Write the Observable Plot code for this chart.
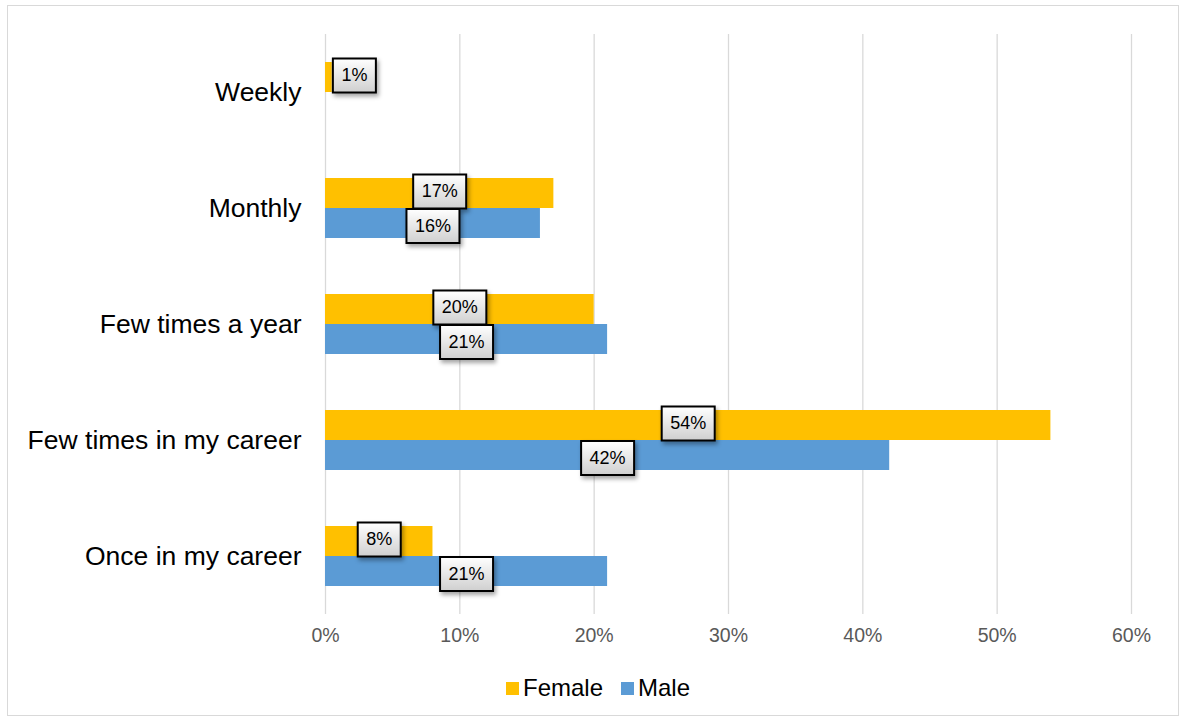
<!DOCTYPE html>
<html>
<head>
<meta charset="utf-8">
<script src="https://cdn.jsdelivr.net/npm/d3@7"></script>
<script src="https://cdn.jsdelivr.net/npm/@observablehq/plot@0.6"></script>
<style>
  html, body { margin: 0; padding: 0; background: #fff; }
  body { width: 1188px; height: 722px; position: relative; overflow: hidden; font-family: "Liberation Sans", Arial, sans-serif; }
  #frame { position: absolute; left: 7px; top: 5px; width: 1172px; height: 711px; border: 1px solid #d9d9d9; box-sizing: border-box; }
  #chart { position: absolute; left: 0; top: 0; }
  #legend { position: absolute; left: 0; top: 674px; width: 1188px; display: flex; justify-content: center; align-items: center; font-size: 24px; color: #000; padding-left: 8px; box-sizing: border-box; }
  .item { display: flex; align-items: center; margin: 0 9px; }
  .sw { width: 13px; height: 13px; margin-right: 4px; }
</style>
</head>
<body>
<div id="frame"></div>
<div id="chart"></div>
<div id="legend"></div>
<script>
const categories = ["Weekly", "Monthly", "Few times a year", "Few times in my career", "Once in my career"];
const series = ["Female", "Male"];
const colors = ["#FFC000", "#5B9BD5"];
const femaleValues = [0.5, 17, 20, 54, 8];
const maleValues = [0, 16, 21, 42, 21];
const xTicks = [0, 10, 20, 30, 40, 50, 60];

const data = [];
categories.forEach((c, i) => {
  data.push({cat: c, sex: "Female", value: femaleValues[i]});
  data.push({cat: c, sex: "Male", value: maleValues[i]});
});
const labelled = data.filter(d => d.value > 0);

const ns = "http://www.w3.org/2000/svg";

const chart = Plot.plot({
  width: 1188,
  height: 660,
  marginLeft: 325,
  marginRight: 57,
  marginTop: 34,
  marginBottom: 46,
  style: {fontFamily: "'Liberation Sans', Arial, sans-serif", background: "transparent"},
  x: {domain: [0, 60], ticks: xTicks},
  fy: {domain: categories, padding: 0},
  y: {domain: series, paddingInner: 0, paddingOuter: 0.933, axis: null},
  color: {domain: series, range: colors},
  marks: [
    Plot.ruleX(xTicks, {stroke: "#d9d9d9", strokeWidth: 1.3}),
    Plot.barX(data, {x: "value", y: "sex", fy: "cat", fill: "sex"}),
    Plot.text(labelled, {
      x: d => (d.value / 2 < 1.6 ? d.value + 1.65 : d.value / 2),
      y: "sex",
      fy: "cat",
      text: d => Math.round(d.value) + "%",
      fontSize: 18,
      fill: "#000",
      fontFamily: "'Liberation Sans', Arial, sans-serif",
      render(index, scales, values, dimensions, context, next) {
        const g = next(index, scales, values, dimensions, context);
        const texts = g.querySelectorAll("text");
        index.forEach((i, k) => {
          const d = labelled[i];
          const shift = d.sex === "Female" ? -2 : 2.5;
          const label = Math.round(d.value) + "%";
          const w = 10 * label.length + 23;
          const h = 34;
          const cx = values.x[i];
          const cy = values.y[i] + shift;
          const r = document.createElementNS(ns, "rect");
          r.setAttribute("x", cx - w / 2);
          r.setAttribute("y", cy - h / 2);
          r.setAttribute("width", w);
          r.setAttribute("height", h);
          r.setAttribute("fill", "url(#lblgrad)");
          r.setAttribute("stroke", "#000");
          r.setAttribute("stroke-width", 2);
          r.setAttribute("style", "filter: drop-shadow(2px 3px 2px rgba(0,0,0,0.35))");
          const t = texts[k];
          if (t) {
            t.setAttribute("transform", `translate(${cx},${cy})`);
            t.parentNode.insertBefore(r, t);
          }
        });
        return g;
      }
    }),
    Plot.axisX({ticks: xTicks, tickFormat: d => d + "%", tickSize: 0, tickPadding: 14, fontSize: 19.5, fill: "#595959", label: null, facetAnchor: "bottom"}),
    Plot.axisFy({tickSize: 0, tickPadding: 24, fontSize: 26.5, fill: "#000", label: null, anchor: "left"})
  ]
});

const defs = document.createElementNS(ns, "defs");
defs.innerHTML = '<linearGradient id="lblgrad" x1="0" y1="0" x2="0" y2="1"><stop offset="0" stop-color="#ffffff"/><stop offset="1" stop-color="#cfcfcf"/></linearGradient>';
chart.insertBefore(defs, chart.firstChild);
document.getElementById("chart").appendChild(chart);

const legend = document.getElementById("legend");
series.forEach((s, i) => {
  const it = document.createElement("div");
  it.className = "item";
  const sw = document.createElement("div");
  sw.className = "sw";
  sw.style.background = colors[i];
  const tx = document.createElement("span");
  tx.textContent = s;
  it.appendChild(sw);
  it.appendChild(tx);
  legend.appendChild(it);
});
</script>
</body>
</html>
